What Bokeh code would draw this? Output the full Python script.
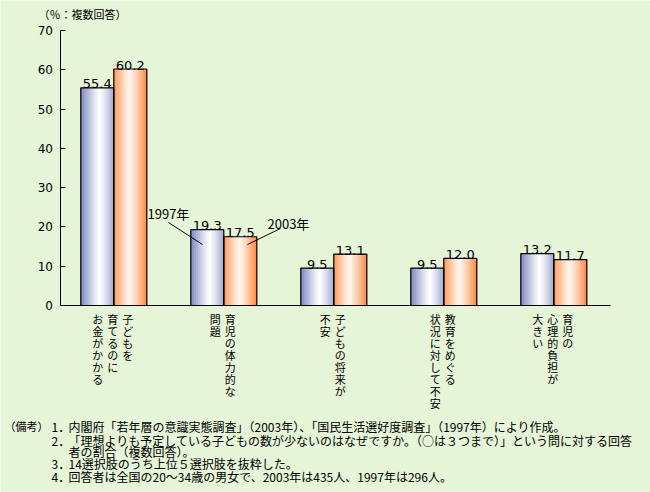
from bokeh.plotting import figure
from bokeh.models import ColumnDataSource, Range1d, FixedTicker
from bokeh.core.properties import value
from bokeh.embed import file_html
from bokeh.resources import INLINE

# ---------------- data ----------------
series_names = ["1997年", "2003年"]
v1997 = [55.4, 19.3, 9.5, 9.5, 13.2]
v2003 = [60.2, 17.5, 13.1, 12.0, 11.7]
# category labels, vertical writing: columns listed right-to-left
category_columns = [
    ["子どもを", "育てるのに", "お金がかかる"],
    ["育児の体力的な", "問題"],
    ["子どもの将来が", "不安"],
    ["教育をめぐる", "状況に対して不安"],
    ["育児の", "心理的負担が", "大きい"],
]
y_ticks = [0, 10, 20, 30, 40, 50, 60, 70]
y_title = "（％：複数回答）"
note_head = "（備考）"
note_nums = ["1．", "2．", "", "3．", "4．"]
note_texts = [
    "内閣府「若年層の意識実態調査」（2003年）、「国民生活選好度調査」（1997年）により作成。",
    "「理想よりも予定している子どもの数が少ないのはなぜですか。（○は３つまで）」という問に対する回答",
    "者の割合（複数回答）。",
    "14選択肢のうち上位５選択肢を抜粋した。",
    "回答者は全国の20～34歳の男女で、2003年は435人、1997年は296人。",
]

# ---------------- layout (pixels on the 650x492 canvas) ----------------
W, H = 650, 492
X0_PX, X_UNIT_PX = 58.3, 110.0          # data x=0 at 58.3 px, 110 px per category
Y0_PX, Y_UNIT_PX = 305.0, 275.0 / 70.0  # data y=0 at 305 px


def px2x(px):
    return (px - X0_PX) / X_UNIT_PX


def px2y(py):
    return (Y0_PX - py) / Y_UNIT_PX


BG = "#E6F4D8"
JP = "Noto Sans CJK JP"
NUM = "DejaVu Sans"
BLUE_EDGE = (120, 128, 190)
BLUE_MID = (255, 255, 255)
ORANGE_EDGE = (255, 138, 66)
ORANGE_MID = (255, 246, 238)
BAR_W = 0.3
NSTRIP = 18

p = figure(width=W, height=H,
           x_range=Range1d(px2x(0), px2x(W)), y_range=Range1d(px2y(H), px2y(0)),
           output_backend="svg", toolbar_location=None,
           min_border=0, min_border_left=0, min_border_right=0,
           min_border_top=0, min_border_bottom=0,
           background_fill_color=BG, border_fill_color=BG,
           outline_line_color=None)
p.grid.visible = False

# y axis (real axis, pinned at the left edge of the plotting area)
p.yaxis.fixed_location = px2x(59.5)
p.yaxis.bounds = (y_ticks[0], y_ticks[-1])
p.yaxis.ticker = FixedTicker(ticks=y_ticks)
p.yaxis.major_tick_in = 5
p.yaxis.major_tick_out = 0
p.yaxis.minor_tick_in = 0
p.yaxis.minor_tick_out = 0
p.yaxis.major_label_standoff = 7
p.yaxis.major_label_text_font = NUM
p.yaxis.major_label_text_font_size = "12px"
p.yaxis.major_label_text_color = "black"
p.yaxis.axis_line_color = "black"
p.yaxis.major_tick_line_color = "black"

# x axis baseline
p.xaxis.fixed_location = 0
p.xaxis.bounds = (px2x(59.5), px2x(610))
p.xaxis.ticker = FixedTicker(ticks=[])
p.xaxis.major_tick_out = 0
p.xaxis.minor_tick_out = 0
p.xaxis.axis_line_color = "black"
p.xaxis.major_label_text_font_size = "0px"


def shade(edge, mid, u, peak, power=1.2):
    d = abs(u - peak) / max(peak, 1 - peak)
    s = 1 - d ** power
    return "#%02x%02x%02x" % tuple(int(round(e + (m - e) * s)) for e, m in zip(edge, mid))


series = [(v1997, BLUE_EDGE, BLUE_MID, 0.58), (v2003, ORANGE_EDGE, ORANGE_MID, 0.48)]
strips = dict(x=[], top=[], color=[])
outl = dict(x=[], top=[], lab=[])
for s_idx, (vals, edge, mid, peak) in enumerate(series):
    off = (s_idx - 0.5) * BAR_W
    for i, v in enumerate(vals):
        xc = i + 0.5 + off
        outl["x"].append(xc)
        outl["top"].append(v)
        outl["lab"].append(f"{v:.1f}")
        for k in range(NSTRIP):
            u = (k + 0.5) / NSTRIP
            strips["x"].append(xc - BAR_W / 2 + u * BAR_W)
            strips["top"].append(v)
            strips["color"].append(shade(edge, mid, u, peak))

p.vbar(x="x", top="top", bottom=0, width=BAR_W / NSTRIP * 1.3, fill_color="color",
       line_color=None, source=ColumnDataSource(strips))
osrc = ColumnDataSource(outl)
p.vbar(x="x", top="top", bottom=0, width=BAR_W, fill_alpha=0, line_color="black",
       line_width=1.2, source=osrc)
p.text(x="x", y="top", text="lab", source=osrc, text_align="center",
       text_baseline="alphabetic", y_offset=-4, text_font=value(NUM),
       text_font_size="13px", text_color="black")

# callouts "1997年" / "2003年" with leader lines (pixel layout -> data)
p.segment(x0=[px2x(168), px2x(280)], y0=[px2y(222), px2y(228)],
          x1=[px2x(202), px2x(247)], y1=[px2y(244), px2y(244)],
          line_color="black", line_width=1)
p.text(x=[px2x(147), px2x(267)], y=[px2y(213), px2y(222.5)], text=series_names,
       text_align="left", text_baseline="middle",
       text_font=value(JP), text_font_size="13px", text_color="black")

# category labels (vertical writing, one glyph per line)
cat = dict(x=[], y=[], text=[], xoff=[])
for i, cols in enumerate(category_columns):
    n = len(cols)
    for j, col in enumerate(cols):
        cat["x"].append(i + 0.5)
        cat["y"].append(0)
        cat["text"].append("\n".join(col))
        cat["xoff"].append(((n - 1) / 2 - j) * 15 - 1)
p.text(x="x", y="y", text="text", x_offset="xoff", y_offset=5,
       source=ColumnDataSource(cat), text_align="center", text_baseline="top",
       text_line_height=0.75, text_font=value(JP), text_font_size="11px",
       text_color="black")

# axis title
p.text(x=[px2x(38)], y=[px2y(13.5)], text=[y_title], text_align="left",
       text_baseline="middle", text_font=value(JP), text_font_size="11px",
       text_color="black")

# notes
note_rows_px = [425.7, 439.7, 451.0, 463.3, 476.0]
p.text(x=[px2x(4)], y=[px2y(note_rows_px[0])], text=[note_head], text_align="left",
       text_baseline="middle", text_font=value(JP), text_font_size="11px",
       text_color="black")
nums_x, nums_y, nums_t = [], [], []
for num, rowpx in zip(note_nums, note_rows_px):
    if num:
        nums_x.append(px2x(51))
        nums_y.append(px2y(rowpx))
        nums_t.append(num)
p.text(x=nums_x, y=nums_y, text=nums_t, text_align="left", text_baseline="middle",
       text_font=value(JP), text_font_size="12px", text_color="black")
p.text(x=[px2x(68)] * len(note_texts), y=[px2y(r) for r in note_rows_px], text=note_texts,
       text_align="left", text_baseline="middle", text_font=value(JP),
       text_font_size="12px", text_color="black")

open("out.html", "w").write(file_html(p, INLINE))
